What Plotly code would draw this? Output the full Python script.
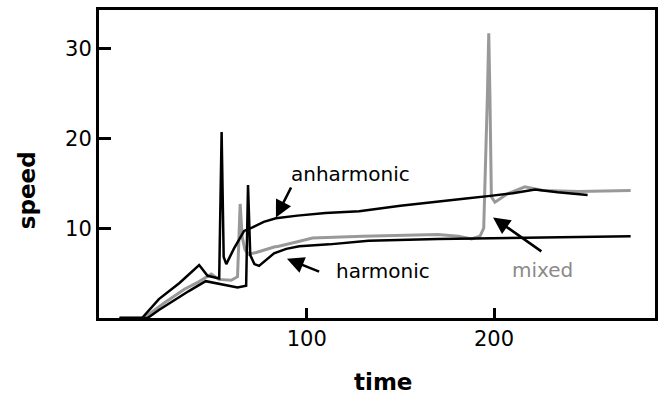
import plotly.graph_objects as go

# ---- data ----
anh_x = [0, 12, 21, 32, 42.5, 47, 53.2, 54.5, 55.6, 57, 61, 66.5, 71, 77, 83.5, 95, 110, 121, 128, 150, 170, 185, 198, 210, 222, 234, 250]
anh_y = [0, 0, 2.1, 3.9, 5.9, 4.7, 4.4, 20.7, 6.8, 6.0, 7.7, 9.7, 10.1, 10.7, 11.1, 11.4, 11.7, 11.8, 11.9, 12.5, 13.0, 13.3, 13.6, 13.9, 14.3, 14.0, 13.7]

harm_x = [0, 15, 21, 27, 37, 46, 53, 58, 63, 67.6, 68.6, 69.8, 72, 74.5, 78, 82.5, 89, 96, 112, 133, 170, 198, 230, 273]
harm_y = [0, 0, 0.9, 1.7, 3.0, 4.1, 3.8, 3.6, 3.4, 3.6, 14.8, 7.0, 6.0, 5.8, 6.4, 7.2, 7.7, 8.0, 8.2, 8.6, 8.8, 8.9, 9.0, 9.1]

mix_x = [0, 13, 24, 34.6, 42, 45, 49, 53, 59.6, 63, 64.4, 65.5, 67, 69, 73, 82.5, 85, 95, 103, 130, 170, 181, 188, 192.5, 194.5, 196.5, 197.2, 197.8, 198.6, 200.5, 207, 216.5, 226, 245, 273]
mix_y = [0, 0, 1.7, 3.2, 4.0, 4.4, 4.9, 4.3, 4.2, 4.6, 12.7, 9.0, 7.6, 7.1, 7.3, 7.9, 8.0, 8.5, 8.9, 9.1, 9.3, 9.1, 8.8, 9.1, 10.0, 25.0, 31.7, 25.0, 13.5, 12.9, 13.8, 14.6, 14.2, 14.1, 14.2]

x_ticks = [100, 200]
y_ticks = [10, 20, 30]

FONT = "Comic Sans MS, DejaVu Sans, sans-serif"
GRAY = "#999999"

fig = go.Figure()
fig.add_trace(go.Scatter(x=mix_x, y=mix_y, mode="lines", line=dict(color=GRAY, width=3), name="mixed"))
fig.add_trace(go.Scatter(x=harm_x, y=harm_y, mode="lines", line=dict(color="black", width=2.5), name="harmonic"))
fig.add_trace(go.Scatter(x=anh_x, y=anh_y, mode="lines", line=dict(color="black", width=2.5), name="anharmonic"))

ann = []
# arrows (head at x,y ; tail at ax,ay)
for (hx, hy, tx, ty) in [(83.5, 11.2, 92.0, 14.7), (89.4, 6.6, 107.4, 5.1), (199.5, 11.2, 226.1, 7.3)]:
    ann.append(dict(x=hx, y=hy, ax=tx, ay=ty, xref="x", yref="y", axref="x", ayref="y",
                    showarrow=True, arrowhead=2, arrowsize=1.3, arrowwidth=2.6, arrowcolor="black", text=""))
ann.append(dict(x=90.4, y=16.0, xref="x", yref="y", text="anharmonic", showarrow=False,
                xanchor="left", yanchor="middle", font=dict(family=FONT, size=20, color="black")))
ann.append(dict(x=114.4, y=5.2, xref="x", yref="y", text="harmonic", showarrow=False,
                xanchor="left", yanchor="middle", font=dict(family=FONT, size=20, color="black")))
ann.append(dict(x=208.5, y=5.4, xref="x", yref="y", text="mixed", showarrow=False,
                xanchor="left", yanchor="middle", font=dict(family=FONT, size=20, color="#8a8a8a")))
# axis titles
ann.append(dict(x=0.51, y=-0.208, xref="paper", yref="paper", text="<b>time</b>", showarrow=False,
                xanchor="center", yanchor="middle", font=dict(family=FONT, size=23, color="black")))
ann.append(dict(x=-0.129, y=0.416, xref="paper", yref="paper", text="<b>speed</b>", showarrow=False, textangle=-90,
                xanchor="center", yanchor="middle", font=dict(family=FONT, size=23, color="black")))

fig.update_layout(
    width=660, height=395,
    margin=dict(l=99, r=2, t=10, b=77),
    paper_bgcolor="white", plot_bgcolor="white",
    showlegend=False,
    annotations=ann,
    font=dict(family=FONT, size=21, color="black"),
)
fig.update_xaxes(range=[-11, 286], tickvals=x_ticks, ticks="inside", ticklen=10, tickwidth=3, tickcolor="black",
                 showline=True, linewidth=3, linecolor="black", mirror=True, showgrid=False, zeroline=False,
                 tickfont=dict(family=FONT, size=21, color="black"))
fig.update_yaxes(range=[0, 34.3], tickvals=y_ticks, ticks="inside", ticklen=12, tickwidth=3, tickcolor="black",
                 showline=True, linewidth=3, linecolor="black", mirror=True, showgrid=False, zeroline=False,
                 tickfont=dict(family=FONT, size=21, color="black"))

fig.write_html("out.html", config={"displayModeBar": False},
               post_script="document.body.style.margin='0';document.body.style.overflow='hidden';")
